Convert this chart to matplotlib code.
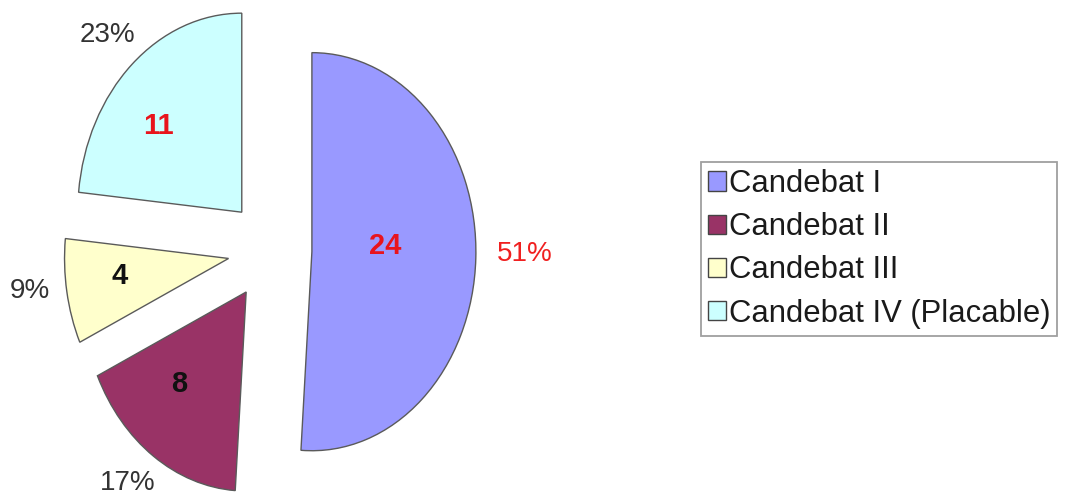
"""Pie chart of Candebat classes with exploded wedges, counts inside and shares outside."""

import matplotlib

matplotlib.use("Agg")

import matplotlib.pyplot as plt
import numpy as np

plt.rcParams["font.family"] = ["Liberation Sans", "DejaVu Sans"]

CATEGORIES = ["Candebat I", "Candebat II", "Candebat III", "Candebat IV (Placable)"]
COUNTS = [24, 8, 4, 11]

COLORS = ["#9999FF", "#993366", "#FFFFCC", "#CCFFFF"]
COUNT_COLORS = ["#E8141C", "#111111", "#111111", "#E8141C"]
PCT_COLORS = ["#F02020", "#333333", "#333333", "#333333"]

# label placement per wedge: radial distance (radius units), angle tweak (deg)
INNER_DIST = [0.45, 0.62, 0.67, 0.67]
INNER_SHIFT = [5.5, -7.0, -2.0, 7.5]
OUTER_DIST = [1.30, 1.20, 1.22, 1.21]
OUTER_SHIFT = [1.5, -2.5, -1.8, 0.6]


def main() -> None:
    fig = plt.figure(figsize=(10.65, 4.95), dpi=100)
    ax = fig.add_axes([0, 0, 1, 1])

    wedges, _ = ax.pie(
        COUNTS,
        colors=COLORS,
        startangle=90,
        counterclock=False,
        explode=[0.256] * len(COUNTS),
        wedgeprops={"edgecolor": "#5a5a5a", "linewidth": 1.0},
    )
    # slightly taller than wide, as in the original
    ax.set_aspect("auto")
    ax.set_xlim(-1.646, 4.848)
    ax.set_ylim(-1.231, 1.256)
    ax.axis("off")

    total = sum(COUNTS)
    for i, w in enumerate(wedges):
        mid = (w.theta1 + w.theta2) / 2
        cx, cy = w.center
        a_in = np.deg2rad(mid + INNER_SHIFT[i])
        ax.text(
            cx + INNER_DIST[i] * np.cos(a_in),
            cy + INNER_DIST[i] * np.sin(a_in),
            str(COUNTS[i]),
            ha="center",
            va="center",
            fontsize=21,
            fontweight="bold",
            color=COUNT_COLORS[i],
        )
        a_out = np.deg2rad(mid + OUTER_SHIFT[i])
        ax.text(
            cx + OUTER_DIST[i] * np.cos(a_out),
            cy + OUTER_DIST[i] * np.sin(a_out),
            f"{round(100 * COUNTS[i] / total)}%",
            ha="center",
            va="center",
            fontsize=20,
            color=PCT_COLORS[i],
        )

    leg = ax.legend(
        wedges,
        CATEGORIES,
        loc="upper left",
        bbox_to_anchor=(701 / 1065, (495 - 162) / 495),
        bbox_transform=fig.transFigure,
        borderaxespad=0,
        fontsize=22.3,
        handlelength=0.58,
        handleheight=0.58,
        handletextpad=0.1,
        labelspacing=0.43,
        borderpad=0.22,
        fancybox=False,
        frameon=True,
    )
    leg.get_frame().set_edgecolor("#888888")
    leg.get_frame().set_linewidth(1.3)
    for h in leg.legend_handles:
        h.set_edgecolor("#444444")
        h.set_linewidth(1.0)
    for t in leg.get_texts():
        t.set_color("#1a1a1a")

    fig.savefig("out.png", dpi=100)
    plt.close(fig)


if __name__ == "__main__":
    main()
